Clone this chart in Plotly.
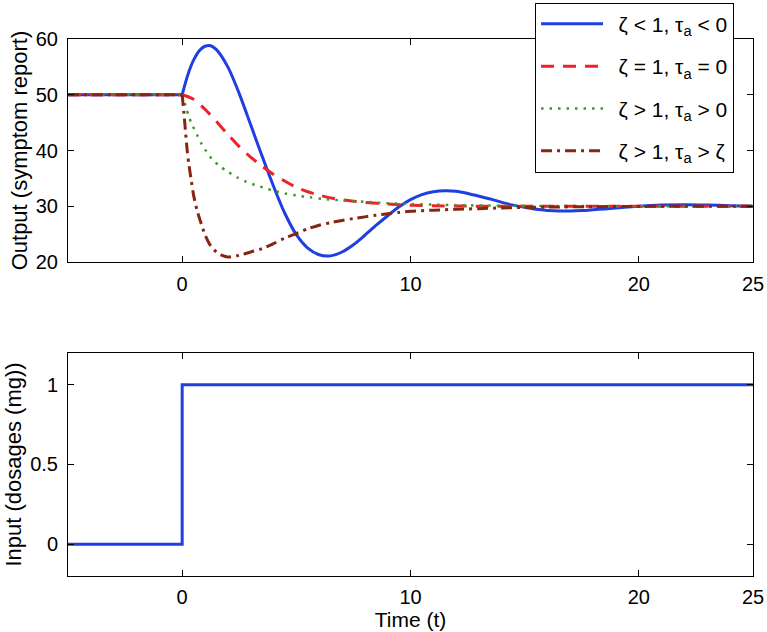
import plotly.graph_objects as go

# ---------------- data ----------------
t_pre = [-5, 0]
y_pre = [50, 50]

t_blue = [0, 0.25, 0.5, 0.75, 1, 1.25, 1.5, 2, 2.5, 3, 3.5, 4, 4.5, 5, 5.5, 6, 6.5,
          7, 7.5, 8, 8.5, 9, 9.5, 10, 10.5, 11, 11.5, 12, 12.5, 13, 13.5, 14, 14.5,
          15, 15.5, 16, 16.5, 17, 17.5, 18, 18.5, 19, 19.5, 20, 21, 22, 23, 24, 25]
y_blue = [50, 53.6, 56.2, 57.9, 58.7, 58.8, 58.1, 55.0, 50.2, 44.6, 39.0, 33.6,
          28.7, 24.9, 22.5, 21.3, 21.1, 21.8, 23.1, 24.8, 26.6, 28.3, 29.9, 31.2,
          32.1, 32.6, 32.8, 32.7, 32.3, 31.8, 31.3, 30.7, 30.2, 29.8, 29.45, 29.25,
          29.15, 29.15, 29.23, 29.37, 29.53, 29.7, 29.87, 30.02, 30.21, 30.27,
          30.22, 30.11, 30.01]

t_red = [0, 0.5, 1, 1.5, 2, 2.5, 3, 3.5, 4, 4.5, 5, 5.5, 6, 6.5, 7, 7.5, 8, 9, 10,
         11, 12, 13, 14, 15, 17, 20, 25]
y_red = [50, 49.2, 47.4, 45.2, 42.9, 40.7, 38.8, 37.2, 35.7, 34.5, 33.4, 32.6,
         32.0, 31.5, 31.15, 30.9, 30.7, 30.4, 30.2, 30.08, 30.04, 30.02, 30.01,
         30.0, 30.0, 30.0, 30.0]

t_green = [0, 0.15, 0.3, 0.45, 0.65, 0.85, 1.05, 1.3, 1.65, 2, 2.4, 2.8, 3.2, 3.6,
           4, 4.5, 5, 5.6, 6.2, 7, 8, 9, 10, 11, 12, 14, 16, 20, 25]
y_green = [50, 48.0, 46.0, 44.5, 42.8, 41.2, 39.9, 38.5, 37.2, 36.2, 35.2, 34.4,
           33.8, 33.3, 32.8, 32.3, 31.95, 31.6, 31.3, 31.05, 30.8, 30.55, 30.4,
           30.3, 30.2, 30.1, 30.05, 30.0, 30.0]

t_brown = [0, 0.07, 0.14, 0.22, 0.3, 0.4, 0.5, 0.65, 0.8, 1.0, 1.25, 1.5, 1.75, 2.0,
           2.5, 3.0, 3.5, 4.0, 4.5, 5.0, 5.5, 6.0, 6.5, 7.0, 7.5, 8.0, 8.5, 9.0,
           9.5, 10, 11, 12, 13, 14, 15, 16, 18, 20, 22, 25]
y_brown = [50, 47.0, 43.7, 40.0, 37.3, 34.6, 32.0, 29.3, 27.3, 24.9, 22.9, 21.8,
           21.2, 20.9, 21.2, 21.8, 22.4, 23.3, 24.3, 25.1, 25.95, 26.6, 27.05,
           27.45, 27.8, 28.1, 28.4, 28.65, 28.9, 29.1, 29.3, 29.45, 29.57, 29.7,
           29.78, 29.85, 29.93, 29.97, 30.0, 30.0]

t_input = [-5, 0, 0, 25]
u_input = [0, 0, 1, 1]

series_names = ["\u2002ζ &lt; 1, τ<sub>a</sub> &lt; 0",
                "\u2002ζ = 1, τ<sub>a</sub> = 0",
                "\u2002ζ &gt; 1, τ<sub>a</sub> &gt; 0",
                "\u2002ζ &gt; 1, τ<sub>a</sub> &gt; ζ"]

x_ticks = [0, 10, 20, 25]
y1_ticks = [20, 30, 40, 50, 60]
y2_ticks = [0, 0.5, 1]
y2_ticktext = ["0", "0.5", "1"]

# ---------------- styles ----------------
FONT = "Liberation Sans, Arial, Helvetica, sans-serif"
styles = [
    dict(color="#1f3fe0", width=3, dash="solid"),
    dict(color="#ee2028", width=3, dash="13px,9px"),
    dict(color="#3a9a28", width=2.5, dash="2.5px,6px"),
    dict(color="#862510", width=3, dash="11px,5px,3px,5px"),
]
curves = [(t_blue, y_blue), (t_red, y_red), (t_green, y_green), (t_brown, y_brown)]

fig = go.Figure()

# pre-step segments (flat at the initial value)
for st in styles:
    fig.add_trace(go.Scatter(x=t_pre, y=y_pre, mode="lines", line=st,
                             showlegend=False, hoverinfo="skip",
                             xaxis="x", yaxis="y"))

for i, ((tt, yy), st, nm) in enumerate(zip(curves, styles, series_names)):
    fig.add_trace(go.Scatter(x=tt, y=yy, mode="lines", name=nm,
                             line=dict(**st, shape="spline", smoothing=0.8),
                             legendgroup=str(i), xaxis="x", yaxis="y"))

fig.add_trace(go.Scatter(x=t_input, y=u_input, mode="lines",
                         line=dict(color="#1f3fe0", width=3),
                         showlegend=False, xaxis="x2", yaxis="y2"))

axis_common = dict(showline=True, linecolor="black", linewidth=1, mirror="ticks",
                   ticks="inside", ticklen=6, tickcolor="black", showgrid=False,
                   zeroline=False, tickfont=dict(family=FONT, size=20, color="black"))

H_TOP = 0.5847
fig.update_layout(
    width=767, height=632,
    margin=dict(l=68, r=14, t=39, b=56, autoexpand=False),
    paper_bgcolor="white", plot_bgcolor="white",
    font=dict(family=FONT, size=20, color="black"),
    xaxis=dict(domain=[0, 1], anchor="y", range=[-5, 25], tickvals=x_ticks,
               ticklabelstandoff=4, **axis_common),
    yaxis=dict(domain=[H_TOP, 1], anchor="x", range=[20, 60], tickvals=y1_ticks,
               title=dict(text="Output (symptom report)",
                          font=dict(family=FONT, size=22, color="black"), standoff=2),
               ticklabelstandoff=5, **axis_common),
    xaxis2=dict(domain=[0, 1], anchor="y2", range=[-5, 25], tickvals=x_ticks,
                ticklabelstandoff=3,
                title=dict(text="Time (t)", font=dict(family=FONT, size=21, color="black"),
                           standoff=0),
                **axis_common),
    yaxis2=dict(domain=[0, 1 - H_TOP], anchor="x2", range=[-0.2, 1.2],
                tickvals=y2_ticks, ticktext=y2_ticktext, ticklabelstandoff=5,
                title=dict(text="Input (dosages (mg))",
                           font=dict(family=FONT, size=22, color="black"), standoff=2),
                **axis_common),
    legend=dict(x=0.6818, y=1.0676, xanchor="left", yanchor="top",
                bgcolor="white", bordercolor="black", borderwidth=1,
                font=dict(family=FONT, size=21, color="black"),
                itemwidth=62, tracegroupgap=12, traceorder="grouped"),
    showlegend=True,
)

fig.write_html("out.html",
               config={"displayModeBar": False},
               post_script="document.body.style.margin='0';"
                           "document.body.style.padding='0';")
